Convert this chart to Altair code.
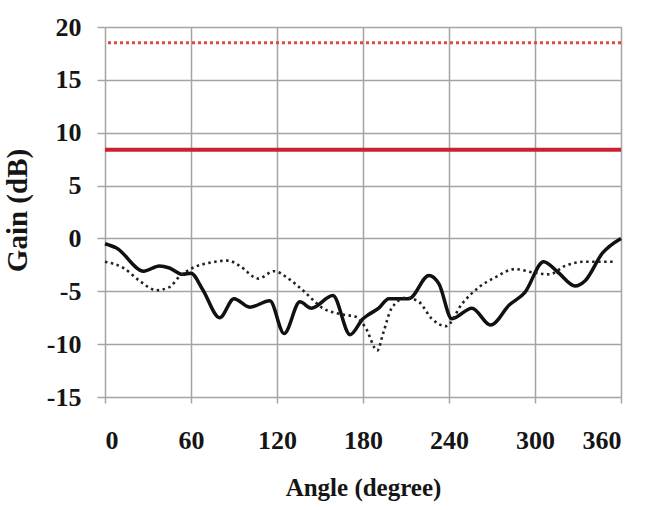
import altair as alt
import pandas as pd

# Measured gain pattern, solid trace (angle in degrees, gain in dB)
solid_angle = [0, 8, 27, 38, 45, 54, 60, 68, 80, 90, 101, 115, 125, 136, 144,
               159, 171, 180, 184, 191, 198, 212, 226, 233, 242, 256, 269, 282,
               293, 306, 316, 328, 335, 347, 360]
solid_gain = [-0.5, -0.9, -3.1, -2.6, -2.8, -3.4, -3.3, -4.8, -7.5, -5.7, -6.5,
              -5.9, -9.0, -6.0, -6.6, -5.4, -9.1, -7.6, -7.2, -6.6, -5.7, -5.7,
              -3.5, -4.3, -7.6, -6.6, -8.2, -6.3, -5.1, -2.2, -3.2, -4.5, -4.0,
              -1.4, 0.0]

# Dotted trace
dotted_angle = [0, 13, 24, 36, 45, 52, 61, 73, 86, 94, 107, 118, 129, 138, 152,
                166, 175, 182, 190, 194, 200, 210, 219, 228, 238, 249, 261, 272,
                286, 298, 310, 321, 335, 347, 356]
dotted_gain = [-2.2, -2.8, -4.0, -4.9, -4.6, -3.6, -2.8, -2.3, -2.1, -2.6, -3.8,
               -3.1, -3.9, -4.9, -6.6, -7.2, -7.4, -8.5, -10.6, -9.0, -6.6, -5.6,
               -6.0, -7.6, -8.3, -6.2, -4.6, -3.7, -2.9, -3.2, -3.4, -2.6, -2.2,
               -2.2, -2.2]

# Constant reference levels (dB)
ref_dotted_level = [18.5]
ref_solid_level = [8.4]

x_ticks = [0, 60, 120, 180, 240, 300, 360]
y_ticks = [-15, -10, -5, 0, 5, 10, 15, 20]

FONT = "Liberation Serif"
GRID = "#a4a4a4"
INK = "#151515"

solid_df = pd.DataFrame({"angle": solid_angle, "gain": solid_gain})
dotted_df = pd.DataFrame({"angle": dotted_angle, "gain": dotted_gain})
ref_dot_df = pd.DataFrame({"gain": ref_dotted_level})
ref_solid_df = pd.DataFrame({"gain": ref_solid_level})

x_scale = alt.Scale(domain=[0, 360], nice=False)
y_scale = alt.Scale(domain=[-15, 20], nice=False)

# plain hyphen for negative tick labels
plain_label = "'' + datum.value"

x_axis = alt.Axis(
    values=x_ticks, title="Angle (degree)", grid=True, gridColor=GRID,
    gridWidth=1.5, domain=False, tickColor=GRID, tickSize=6, tickWidth=1.5,
    labelExpr=plain_label,
    labelFont=FONT, labelFontWeight="bold", labelFontSize=26, labelColor=INK,
    labelPadding=24, titleFont=FONT, titleFontWeight="bold", titleFontSize=25,
    titleColor=INK, titleY=98, titleBaseline="alphabetic",
)
y_axis = alt.Axis(
    values=y_ticks, title="Gain (dB)", grid=True, gridColor=GRID,
    gridWidth=1.5, domain=False, tickColor=GRID, tickSize=8, tickWidth=1.5,
    labelExpr=plain_label,
    labelFont=FONT, labelFontWeight="bold", labelFontSize=26, labelColor=INK,
    labelPadding=16, titleFont=FONT, titleFontWeight="bold", titleFontSize=29,
    titleColor=INK, titleX=-88, titleY=183, titleAngle=-90,
    titleBaseline="middle", titleAlign="center",
)

base_x = alt.X("angle:Q", scale=x_scale, axis=x_axis)
base_y = alt.Y("gain:Q", scale=y_scale, axis=y_axis)

solid_line = alt.Chart(solid_df).mark_line(
    color="#111111", strokeWidth=3.5, interpolate="monotone"
).encode(x=base_x, y=base_y)

dotted_line = alt.Chart(dotted_df).mark_line(
    color="#222222", strokeWidth=2.6, strokeDash=[2.5, 3.5], interpolate="monotone"
).encode(x="angle:Q", y="gain:Q")

ref_dot = alt.Chart(ref_dot_df).mark_rule(
    color="#e04848", strokeWidth=3, strokeDash=[3, 3]
).encode(y="gain:Q")

ref_solid = alt.Chart(ref_solid_df).mark_rule(
    color="#cc2030", strokeWidth=4
).encode(y="gain:Q")

chart = alt.layer(solid_line, dotted_line, ref_dot, ref_solid).properties(
    width=516,
    height=370,
    autosize=alt.AutoSizeParams(type="none"),
    padding={"left": 105, "top": 27, "right": 42, "bottom": 113},
    title=alt.Title("(a)", font=FONT, fontWeight="bold", fontSize=22,
                    color=INK, offset=20, anchor="middle", dx=-36),
).configure_view(
    stroke=GRID, strokeWidth=1.5
).configure(background="white")

chart.save("out.html", embed_options={"renderer": "svg", "actions": False})
